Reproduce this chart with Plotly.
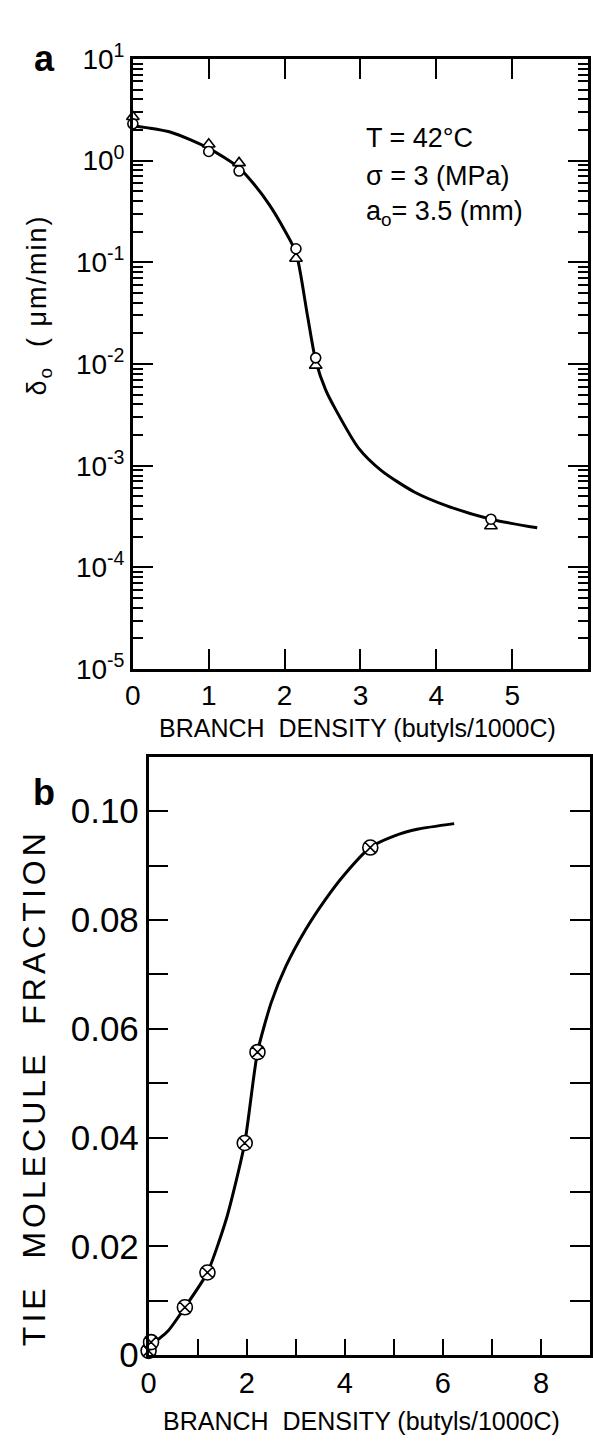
import plotly.graph_objects as go

# ---------------- Panel a data ----------------
a_circle_x = [0.0, 1.0, 1.4, 2.15, 2.41, 4.72]
a_circle_y = [2.3, 1.23, 0.79, 0.136, 0.0115, 2.98e-4]
a_tri_x = [0.0, 1.0, 1.4, 2.15, 2.41, 4.72]
a_tri_y = [2.7, 1.45, 0.95, 0.109, 0.0097, 2.55e-4]
a_curve_x = [0.0, 0.5, 1.0, 1.4, 1.6, 1.8, 2.0, 2.15, 2.3, 2.41, 2.54, 2.67, 2.975, 3.28, 3.71, 4.14, 4.72, 5.33]
a_curve_y = [2.2, 1.9, 1.32, 0.85, 0.583, 0.367, 0.207, 0.125, 0.0304, 0.0108, 0.0056, 0.0036,
             1.49e-3, 8.9e-4, 5.52e-4, 4.03e-4, 2.98e-4, 2.45e-4]
a_ytick_vals = [1e-5, 1e-4, 1e-3, 1e-2, 1e-1, 1e0, 1e1]
a_ytick_text = ["10<sup>-5</sup>", "10<sup>-4</sup>", "10<sup>-3</sup>", "10<sup>-2</sup>",
                "10<sup>-1</sup>", "10<sup>0</sup>", "10<sup>1</sup>"]
a_xtick_vals = [0, 1, 2, 3, 4, 5]

# ---------------- Panel b data ----------------
b_x = [0.0, 0.05, 0.74, 1.2, 1.96, 2.22, 4.52]
b_y = [0.0008, 0.0024, 0.0088, 0.0152, 0.039, 0.0557, 0.0933]
b_curve_x = [0.0, 0.4, 0.74, 1.2, 1.6, 1.96, 2.22, 2.5, 2.8, 3.2, 3.6, 4.0, 4.52, 5.0, 5.5, 6.23]
b_curve_y = [0.0015, 0.0045, 0.0088, 0.0152, 0.0255, 0.039, 0.0557, 0.0648, 0.0715, 0.0782,
             0.0837, 0.0884, 0.0933, 0.0954, 0.0967, 0.0977]
b_xtick_vals = [0, 2, 4, 6, 8]
b_xminor_vals = [1, 3, 5, 7, 9]
b_ytick_vals = [0, 0.02, 0.04, 0.06, 0.08, 0.10]
b_ytick_text = ["0", "0.02", "0.04", "0.06", "0.08", "0.10"]
b_yminor_vals = [0.01, 0.03, 0.05, 0.07, 0.09]

FONT = "Liberation Sans, Arial, sans-serif"
W, H = 593, 1454

a_yminor_vals = [k * 10.0 ** n for n in range(-5, 1) for k in range(2, 10)]

fig = go.Figure()

fig.add_trace(go.Scatter(x=a_curve_x, y=a_curve_y, mode="lines",
                         line=dict(color="black", width=3, shape="spline", smoothing=0.7),
                         xaxis="x", yaxis="y", showlegend=False, hoverinfo="skip"))
fig.add_trace(go.Scatter(x=a_tri_x, y=a_tri_y, mode="markers",
                         marker=dict(symbol="triangle-up", size=11, color="white",
                                     line=dict(color="black", width=1.6)),
                         xaxis="x", yaxis="y", showlegend=False, cliponaxis=False))
fig.add_trace(go.Scatter(x=a_circle_x, y=a_circle_y, mode="markers",
                         marker=dict(symbol="circle", size=10, color="white",
                                     line=dict(color="black", width=1.6)),
                         xaxis="x", yaxis="y", showlegend=False, cliponaxis=False))

fig.add_trace(go.Scatter(x=b_curve_x, y=b_curve_y, mode="lines",
                         line=dict(color="black", width=3, shape="spline", smoothing=0.6),
                         xaxis="x2", yaxis="y2", showlegend=False, hoverinfo="skip"))
fig.add_trace(go.Scatter(x=b_x, y=b_y, mode="markers",
                         marker=dict(symbol="circle-x", size=15, color="white",
                                     line=dict(color="black", width=1.6)),
                         xaxis="x2", yaxis="y2", showlegend=False, cliponaxis=False))

axis_common = dict(showline=True, linecolor="black", linewidth=2.5, showgrid=False,
                   zeroline=False, ticks="inside", tickcolor="black", tickwidth=2,
                   tickfont=dict(family=FONT, size=28, color="black"))

fig.update_layout(
    width=W, height=H, margin=dict(l=0, r=0, t=0, b=0),
    paper_bgcolor="white", plot_bgcolor="white",
    font=dict(family=FONT, color="black"),
    xaxis=dict(axis_common, domain=[127 / W, 590 / W], anchor="y", range=[0, 6],
               tickmode="array", tickvals=a_xtick_vals,
               ticklen=20, mirror="ticks"),
    yaxis=dict(axis_common, domain=[1 - 667 / H, 1 - 40 / H], anchor="x", type="log",
               range=[-5, 1], tickmode="array", tickvals=a_ytick_vals, ticktext=a_ytick_text,
               ticklen=20, mirror="ticks", tickfont=dict(family=FONT, size=28, color="black"),
               minor=dict(tickmode="array", tickvals=a_yminor_vals, ticks="inside", ticklen=10,
                          tickwidth=1.8, tickcolor="black")),
    xaxis2=dict(axis_common, domain=[143 / W, 592 / W], anchor="y2", range=[0, 9],
                tickmode="array", tickvals=b_xtick_vals,
                ticklen=16, mirror=True, tickfont=dict(family=FONT, size=29, color="black"),
                minor=dict(tickmode="array", tickvals=b_xminor_vals, ticks="inside", ticklen=16,
                           tickwidth=2, tickcolor="black")),
    yaxis2=dict(axis_common, domain=[1 - 1372 / H, 1 - 757 / H], anchor="x2", range=[0, 0.110],
                tickmode="array", tickvals=b_ytick_vals, ticktext=b_ytick_text,
                ticklen=20, mirror="ticks", tickfont=dict(family=FONT, size=35, color="black"),
                minor=dict(tickmode="array", tickvals=b_yminor_vals, ticks="inside", ticklen=20,
                           tickwidth=2, tickcolor="black")),
)

ann = []
ann.append(dict(text="<b>a</b>", x=37 / W, y=1 - 40 / H, font=dict(size=36)))
ann.append(dict(text="<b>b</b>", x=37 / W, y=1 - 794 / H, font=dict(size=36)))
ann.append(dict(text="T = 42°C", x=362 / W, y=1 - 121 / H, xanchor="left", font=dict(size=27)))
ann.append(dict(text="σ = 3 (MPa)", x=362 / W, y=1 - 160 / H, xanchor="left", font=dict(size=27)))
ann.append(dict(text="a<sub>o</sub>= 3.5 (mm)", x=362 / W, y=1 - 198 / H, xanchor="left", font=dict(size=27)))
ann.append(dict(text="BRANCH\u00a0 DENSITY (butyls/1000C)", x=355 / W, y=1 - 728 / H, font=dict(size=25)))
ann.append(dict(text="BRANCH\u00a0 DENSITY (butyls/1000C)", x=360 / W, y=1 - 1440 / H, font=dict(size=25)))
ann.append(dict(text="δ<sub>o</sub>  ( μm/min)", x=32 / W, y=1 - 293 / H, textangle=-90, font=dict(size=27)))
ann.append(dict(text="TIE\u00a0 MOLECULE\u00a0 FRACTION", x=26 / W, y=1 - 1097 / H, textangle=-90, font=dict(size=32)))
for a in ann:
    a.setdefault("xanchor", "center")
    a.setdefault("yanchor", "middle")
    a.update(xref="paper", yref="paper", showarrow=False)
    a["font"] = dict(family=FONT, color="black", **a["font"])
fig.update_layout(annotations=ann)

post = """
document.querySelectorAll('text.annotation-text').forEach(function(t){
  var s = t.textContent;
  if (s.indexOf('FRACTION') >= 0) { t.style.letterSpacing = '4px'; }
  else if (s.indexOf('min') >= 0) { t.style.letterSpacing = '2px'; }
});
"""
fig.write_html("out.html", post_script=post)
